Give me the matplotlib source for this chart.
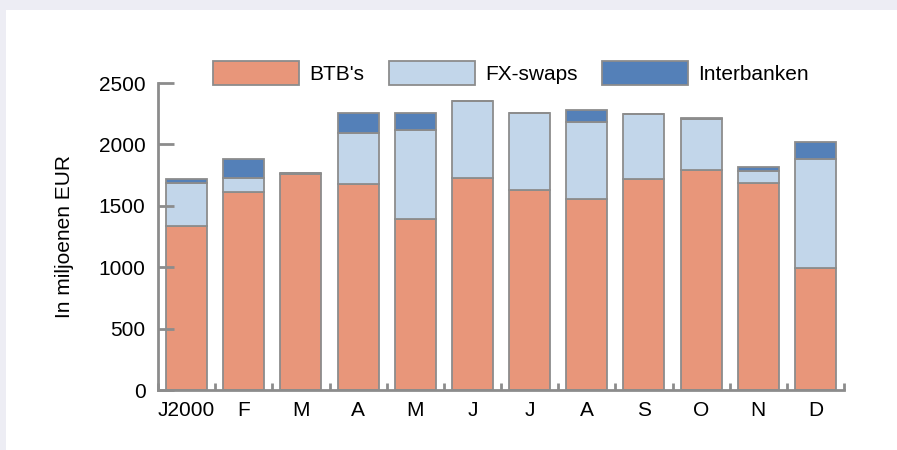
import numpy as np
import matplotlib.pyplot as plt
from matplotlib.patches import Rectangle, Patch

plt.rcParams['font.family'] = ['Liberation Sans', 'DejaVu Sans']

# maanden en waarden (miljoenen EUR)
maanden = ['J2000', 'F', 'M', 'A', 'M', 'J', 'J', 'A', 'S', 'O', 'N', 'D']
btb = [1335, 1615, 1762, 1677, 1395, 1724, 1626, 1555, 1716, 1794, 1686, 993]
fx_swaps = [350, 115, 3, 418, 720, 630, 630, 627, 534, 416, 97, 888]
interbanken = [35, 150, 3, 158, 138, 3, 0, 95, 0, 8, 36, 136]

kleur_btb = '#E8967A'
kleur_fx = '#C2D6EA'
kleur_ib = '#5480B8'
rand = '#8C8C8C'

fig = plt.figure(figsize=(8.97, 4.5), dpi=100)
fig.patch.set_facecolor('#EDEDF4')
# witte achtergrond van het paneel
bg = Rectangle((6 / 897, 0), 1, 1 - 10 / 450, transform=fig.transFigure,
               facecolor='white', edgecolor='none', zorder=-10)
fig.add_artist(bg)

ax = fig.add_axes([158 / 897, 1 - 390 / 450, 686 / 897, 307 / 450])
ax.set_facecolor('none')

x = np.arange(len(maanden))
b = 0.72
btb = np.array(btb)
fx_swaps = np.array(fx_swaps)
interbanken = np.array(interbanken)

ax.bar(x, btb, width=b, color=kleur_btb, edgecolor=rand, linewidth=1.3)
ax.bar(x, fx_swaps, width=b, bottom=btb, color=kleur_fx, edgecolor=rand, linewidth=1.3)
ax.bar(x, interbanken, width=b, bottom=btb + fx_swaps, color=kleur_ib, edgecolor=rand, linewidth=1.3)

ax.set_xlim(-0.5, len(maanden) - 0.5)
ax.set_ylim(0, 2500)
ax.set_yticks([0, 500, 1000, 1500, 2000, 2500])
ax.set_xticks(x)
ax.set_xticklabels(maanden)
ax.set_xticks(np.arange(len(maanden) + 1) - 0.5, minor=True)

for s in ['top', 'right']:
    ax.spines[s].set_visible(False)
for s in ['left', 'bottom']:
    ax.spines[s].set_color(rand)
    ax.spines[s].set_linewidth(2)

ax.tick_params(axis='y', direction='in', length=11.5, width=2, color=rand,
               labelsize=15, pad=9)
ax.tick_params(axis='x', which='major', length=0, labelsize=15, pad=8)
ax.tick_params(axis='x', which='minor', direction='in', length=5, width=2, color=rand)

fig.text(64 / 897, 1 - 236 / 450, 'In miljoenen EUR', rotation=90, fontsize=15,
         ha='center', va='center')

handles = [Patch(facecolor=kleur_btb, edgecolor=rand, linewidth=1.3),
           Patch(facecolor=kleur_fx, edgecolor=rand, linewidth=1.3),
           Patch(facecolor=kleur_ib, edgecolor=rand, linewidth=1.3)]
fig.legend(handles, ["BTB's", 'FX-swaps', 'Interbanken'], ncol=3, frameon=False,
           loc='center left', bbox_to_anchor=(194 / 897, 1 - 73 / 450),
           fontsize=15, handlelength=4.13, handleheight=1.44, handletextpad=0.48,
           columnspacing=1.2)

fig.savefig('out.png', dpi=100, facecolor=fig.get_facecolor())
